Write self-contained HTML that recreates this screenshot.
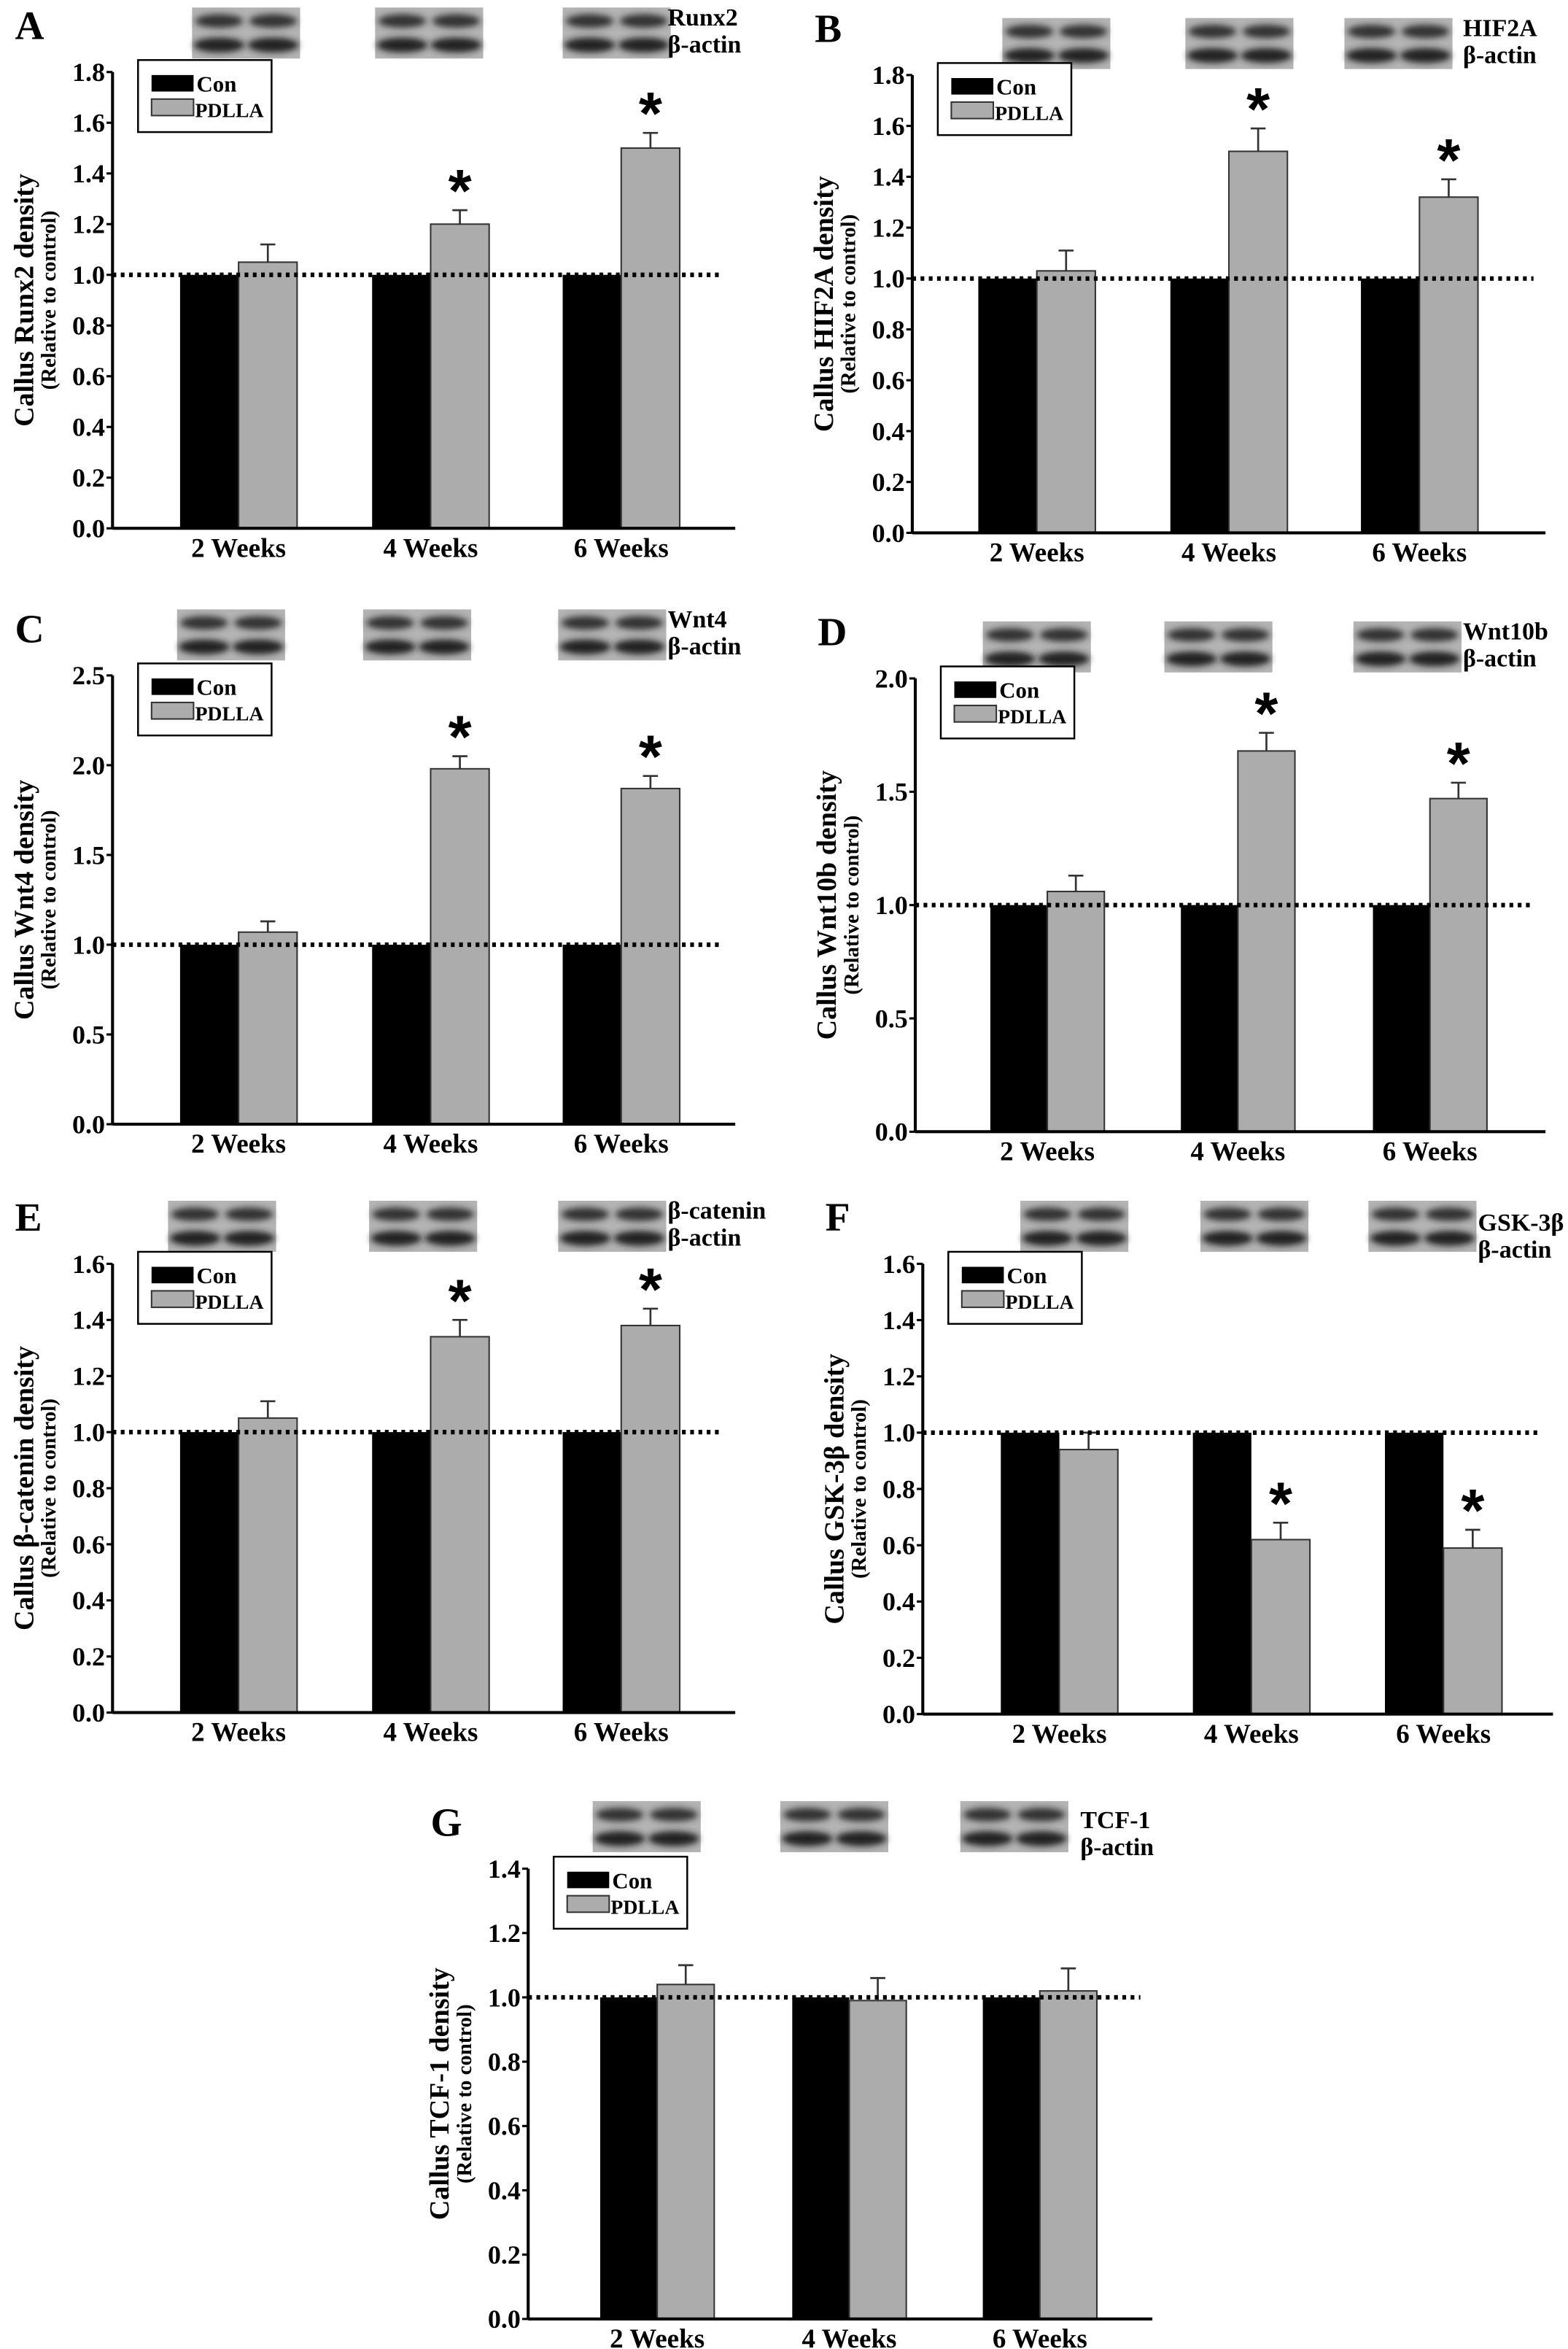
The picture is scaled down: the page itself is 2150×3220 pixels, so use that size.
<!DOCTYPE html>
<html><head><meta charset="utf-8"><style>
html,body{margin:0;padding:0;background:#fff;}
svg{display:block;font-family:"Liberation Serif",serif;font-weight:bold;}
</style></head>
<body>
<svg id="fig" width="2150" height="3220" viewBox="0 0 1045 1565" preserveAspectRatio="none" xmlns="http://www.w3.org/2000/svg">
<defs><filter id="bl" x="-20%" y="-50%" width="140%" height="200%"><feGaussianBlur stdDeviation="2.2"/></filter></defs>
</svg>
<script>
const categories = ["2 Weeks","4 Weeks","6 Weeks"];
const conA=[1,1,1], pdA=[1.05,1.2,1.5], errA=[0.07,0.055,0.06], sigA=[false,true,true];
const conB=[1,1,1], pdB=[1.03,1.5,1.32], errB=[0.08,0.09,0.07], sigB=[false,true,true];
const conC=[1,1,1], pdC=[1.07,1.98,1.87], errC=[0.06,0.07,0.07], sigC=[false,true,true];
const conD=[1,1,1], pdD=[1.06,1.68,1.47], errD=[0.07,0.08,0.07], sigD=[false,true,true];
const conE=[1,1,1], pdE=[1.05,1.34,1.38], errE=[0.06,0.06,0.06], sigE=[false,true,true];
const conF=[1,1,1], pdF=[0.94,0.62,0.59], errF=[0.06,0.06,0.065], sigF=[false,true,true];
const conG=[1,1,1], pdG=[1.04,0.99,1.02], errG=[0.06,0.07,0.07], sigG=[false,false,false];
const ticksA=[0,0.2,0.4,0.6,0.8,1.0,1.2,1.4,1.6,1.8];
const ticksC=[0,0.5,1.0,1.5,2.0,2.5];
const ticksD=[0,0.5,1.0,1.5,2.0];
const ticksE=[0,0.2,0.4,0.6,0.8,1.0,1.2,1.4,1.6];
const ticksG=[0,0.2,0.4,0.6,0.8,1.0,1.2,1.4];

const panels=[
 {L:"A",gene:"Runx2",con:conA,pd:pdA,err:errA,sig:sigA,ticks:ticksA,dec:1,ax:75,xe:490,y0:352,yt:48,bx:[120,248,375],bw:39,by:5,blx:[128,250,375],lx:445,ly:17},
 {L:"B",gene:"HIF2A",con:conB,pd:pdB,err:errB,sig:sigB,ticks:ticksA,dec:1,ax:608,xe:1030,y0:355,yt:50,bx:[652,780,907],bw:39,by:12,blx:[668,790,896],lx:975,ly:24},
 {L:"C",gene:"Wnt4",con:conC,pd:pdC,err:errC,sig:sigC,ticks:ticksC,dec:1,ax:75,xe:490,y0:749,yt:450,bx:[120,248,375],bw:39,by:406,blx:[118,242,372],lx:445,ly:418},
 {L:"D",gene:"Wnt10b",con:conD,pd:pdD,err:errD,sig:sigD,ticks:ticksD,dec:1,ax:610,xe:1030,y0:754,yt:452,bx:[660,787,915],bw:38,by:414,blx:[655,776,902],lx:975,ly:426},
 {L:"E",gene:"β-catenin",con:conE,pd:pdE,err:errE,sig:sigE,ticks:ticksE,dec:1,ax:75,xe:490,y0:1141,yt:842,bx:[120,248,375],bw:39,by:800,blx:[112,246,372],lx:445,ly:812},
 {L:"F",gene:"GSK-3β",con:conF,pd:pdF,err:errF,sig:sigF,ticks:ticksE,dec:1,ax:615,xe:1035,y0:1142,yt:842,bx:[667,795,923],bw:39,by:800,blx:[680,800,912],lx:985,ly:820},
 {L:"G",gene:"TCF-1",con:conG,pd:pdG,err:errG,sig:sigG,ticks:ticksG,dec:1,ax:352,xe:768,y0:1545,yt:1245,bx:[400,528,655],bw:38,by:1200,blx:[395,520,640],lx:720,ly:1218}
];
const svg=document.getElementById('fig');
const NS="http://www.w3.org/2000/svg";
function mk(tag,attrs,parent,text){const e=document.createElementNS(NS,tag);for(const k in attrs)e.setAttribute(k,attrs[k]);if(text!==undefined)e.textContent=text;(parent||svg).appendChild(e);return e;}
const titles={A:"Callus Runx2 density",B:"Callus HIF2A density",C:"Callus Wnt4 density",D:"Callus Wnt10b density",E:"Callus β-catenin density",F:"Callus GSK-3β density",G:"Callus TCF-1 density"};
panels.forEach(p=>{
 const g=mk('g',{});
 
 
 const tmax=p.ticks[p.ticks.length-1];
 const Y=v=>p.y0-(v/tmax)*(p.y0-p.yt);
 const lt=mk('text',{x:p.ax-65,y:p.yt-22,'font-size':27},g,p.L);
 
 
 p.blx.forEach((bx,i)=>{
  const bg=mk('g',{},g);
  
  
  mk('rect',{x:bx,y:p.by,width:72,height:34,fill:'#b4b4b4'},bg);
  [0,1].forEach(j=>{
   mk('ellipse',{cx:bx+18+j*36,cy:p.by+9,rx:16,ry:4.5,fill:'#333',filter:'url(#bl)'},bg);
   mk('ellipse',{cx:bx+18+j*36,cy:p.by+25,rx:17,ry:5,fill:'#222',filter:'url(#bl)'},bg);
  });
 });
 const gt=mk('text',{x:p.lx,y:p.ly,'font-size':16.5},g,p.gene);
 
 
 const ba=mk('text',{x:p.lx,y:p.ly+18,'font-size':16.5},g,'β-actin');
 
 
 const ya=mk('line',{x1:p.ax,y1:p.yt,x2:p.ax,y2:p.y0,stroke:'#000','stroke-width':2},g);
 
 
 p.ticks.forEach(t=>{
  mk('line',{x1:p.ax-4,x2:p.ax,y1:Y(t),y2:Y(t),stroke:'#000','stroke-width':1.5},g);
  const tl=mk('text',{x:p.ax-5,y:Y(t)+6,'font-size':17.5,'text-anchor':'end'},g,t.toFixed(p.dec));
  
  
 });
 const cy=(p.y0+p.yt)/2;
 const yt=mk('text',{x:p.ax-53,y:cy,'font-size':18.5,'text-anchor':'middle',transform:`rotate(-90 ${p.ax-53} ${cy})`},g,titles[p.L]);
 
 
 const ys=mk('text',{x:p.ax-38,y:cy,'font-size':14,'text-anchor':'middle',transform:`rotate(-90 ${p.ax-38} ${cy})`},g,'(Relative to control)');
 
 
 categories.forEach((c,i)=>{
  const x=p.bx[i];
  const b1=mk('rect',{x:x,y:Y(p.con[i]),width:p.bw,height:p.y0-Y(p.con[i]),fill:'#000'},g);
  
  
  const b2=mk('rect',{x:x+p.bw,y:Y(p.pd[i]),width:p.bw,height:p.y0-Y(p.pd[i]),fill:'#acacac',stroke:'#333','stroke-width':1},g);
  
  
  const ex=x+p.bw*1.5, et=Y(p.pd[i]+p.err[i]);
  const eb=mk('path',{d:`M${ex} ${Y(p.pd[i])}V${et}M${ex-5} ${et}H${ex+5}`,stroke:'#333','stroke-width':1.3,fill:'none'},g);
  
  
  if(p.sig[i]){
   const st=mk('text',{x:ex,y:et+1,'font-size':40,'text-anchor':'middle','font-family':'Liberation Sans, sans-serif'},g,'*');
   
   
  }
  const cl=mk('text',{x:x+p.bw,y:p.y0+19,'font-size':18,'text-anchor':'middle'},g,c);
  
  
 });
 const xa=mk('line',{x1:p.ax,y1:p.y0,x2:p.xe,y2:p.y0,stroke:'#000','stroke-width':2},g);
 
 
 const dl=mk('line',{x1:p.ax,x2:p.xe-8,y1:Y(1),y2:Y(1),stroke:'#000','stroke-width':3,'stroke-dasharray':'2.5 3'},g);
 
 
 const lg=mk('g',{},g);
 
 
 const lx=p.ax+17, ly=p.yt-8;
 mk('rect',{x:lx,y:ly,width:89,height:48,fill:'#fff',stroke:'#000','stroke-width':1.2},lg);
 mk('rect',{x:lx+9,y:ly+10,width:28,height:11,fill:'#000'},lg);
 mk('text',{x:lx+39,y:ly+21,'font-size':15},lg,'Con');
 mk('rect',{x:lx+9,y:ly+26,width:28,height:11,fill:'#acacac',stroke:'#333','stroke-width':1},lg);
 mk('text',{x:lx+38,y:ly+38,'font-size':13.5},lg,'PDLLA');
});
</script>
</body></html>
